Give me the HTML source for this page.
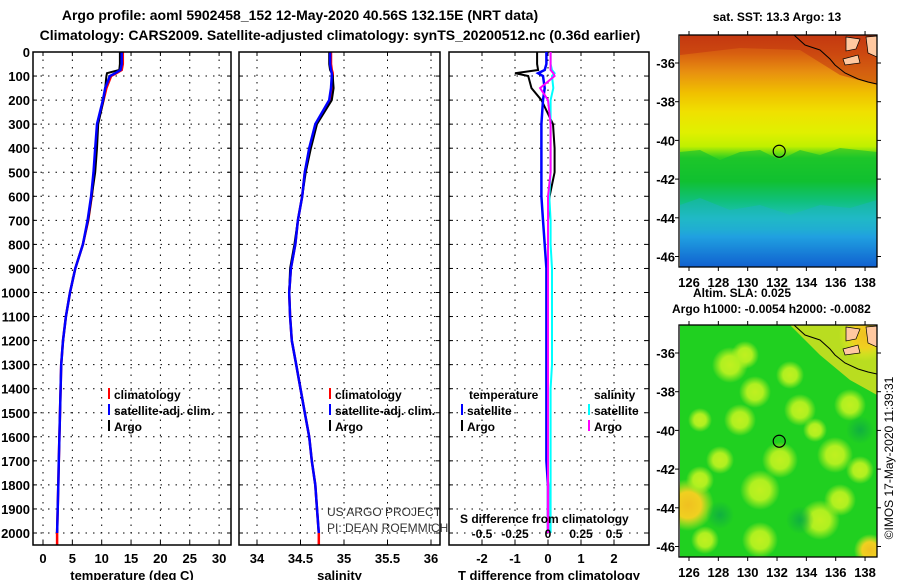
<!DOCTYPE html>
<html><head><meta charset="utf-8"><style>
body{margin:0;background:#fff;}
svg text{font-family:"Liberation Sans",sans-serif;font-weight:bold;}
</style></head><body>
<svg id="c" width="900" height="580" xmlns="http://www.w3.org/2000/svg">
<defs>
<linearGradient id="sst" x1="0" y1="0" x2="0" y2="1">
<stop offset="0" stop-color="#c84010"/><stop offset="0.08" stop-color="#d86010"/><stop offset="0.16" stop-color="#e89010"/><stop offset="0.25" stop-color="#f0c000"/><stop offset="0.33" stop-color="#f0e000"/><stop offset="0.42" stop-color="#e0f000"/><stop offset="0.48" stop-color="#c0f000"/><stop offset="0.53" stop-color="#30d020"/><stop offset="0.63" stop-color="#10c030"/><stop offset="0.72" stop-color="#10c080"/><stop offset="0.79" stop-color="#20c0c0"/><stop offset="0.87" stop-color="#20a0e0"/><stop offset="1" stop-color="#1060d0"/>
</linearGradient>
<radialGradient id="blobY"><stop offset="0" stop-color="#c0f020"/><stop offset="0.5" stop-color="#b0f020"/><stop offset="1" stop-color="#b0f020" stop-opacity="0"/></radialGradient>
<radialGradient id="blobO"><stop offset="0" stop-color="#f0c020"/><stop offset="0.5" stop-color="#f0d020"/><stop offset="1" stop-color="#e0f020" stop-opacity="0"/></radialGradient>
<radialGradient id="blobD"><stop offset="0" stop-color="#10b040"/><stop offset="1" stop-color="#10b040" stop-opacity="0"/></radialGradient>
<clipPath id="clip1"><rect x="679" y="35" width="198" height="232"/></clipPath>
<clipPath id="clip2"><rect x="679" y="325" width="198" height="232"/></clipPath>
</defs>
<g id="titles">
<text x="300" y="20" font-size="14" text-anchor="middle">Argo profile: aoml 5902458_152 12-May-2020 40.56S 132.15E (NRT data)</text>
<text x="340" y="40" font-size="14" text-anchor="middle">Climatology: CARS2009. Satellite-adjusted climatology: synTS_20200512.nc (0.36d earlier)</text>
</g>
<g id="g1"></g><g id="g2"></g><g id="g3"></g>
<g id="maps"></g>
</svg>
<script>
const depths=[0,50,75,88,100,150,200,300,400,500,600,700,800,900,1000,1100,1200,1300,1400,1500,1600,1700,1800,1900,2000,2050];
const tempClim=[13.6,13.6,13.4,12.5,11.6,10.8,10.3,9.3,9.0,8.7,8.3,7.7,6.8,5.5,4.6,3.9,3.4,3.1,3.0,2.9,2.8,2.7,2.6,2.5,2.4,2.4];
const tempSat=[13.4,13.4,13.2,12.3,11.4,10.6,10.2,9.2,8.9,8.6,8.2,7.6,6.8,5.5,4.6,3.9,3.4,3.1,3.0,2.9,2.8,2.7,2.6,2.5,2.4,null];
const tempArgo=[13.1,13.1,13.0,10.9,10.8,10.6,10.3,9.4,9.2,8.9,8.3,7.7,6.8,5.5,4.6,3.9,3.4,3.1,3.0,2.9,2.8,2.7,2.6,2.5,2.4,null];
const salClim=[34.85,34.85,34.86,34.87,34.87,34.86,34.84,34.68,34.61,34.55,34.52,34.47,34.44,34.39,34.37,34.38,34.40,34.45,34.50,34.55,34.60,34.63,34.67,34.69,34.71,34.71];
const salSat=[34.84,34.84,34.85,34.86,34.86,34.85,34.83,34.67,34.60,34.55,34.52,34.47,34.44,34.39,34.37,34.38,34.40,34.45,34.50,34.55,34.60,34.63,34.67,34.69,34.71,null];
const salArgo=[34.83,34.83,34.84,34.86,34.87,34.88,34.86,34.69,34.62,34.56,34.52,34.47,34.43,34.38,34.37,34.38,34.40,34.45,34.50,34.55,34.60,34.63,34.67,34.69,34.71,null];
const tDiffSat=[-0.05,-0.05,-0.1,-0.3,-0.15,-0.1,-0.15,-0.2,-0.2,-0.2,-0.2,-0.15,-0.1,-0.05,-0.05,-0.05,-0.05,-0.05,-0.05,-0.05,-0.05,-0.05,0,0,0,null];
const tDiffArgo=[-0.33,-0.33,-0.3,-1.0,-0.6,-0.5,-0.2,0.15,0.2,0.2,0.05,0,0,0,0,0,0,0,0,0,0,0,0,0,0,null];
const sDiffSat=[0.02,0.02,0.03,0.05,0.03,0.04,0.02,0.02,0.02,0.02,0.01,0.02,0.02,0.03,0.03,0.03,0.03,0.03,0.02,0.02,0.02,0.02,0.02,0.02,0.02,null];
const sDiffArgo=[0.02,0.02,0.02,0.04,0.05,-0.06,0.0,0.02,0.02,0.02,0.0,0.0,0.0,0.0,0.0,0.0,0.0,0.0,0.0,0.0,0.0,0.0,0.0,0.0,0.0,null];
const depthTicks=[0,100,200,300,400,500,600,700,800,900,1000,1100,1200,1300,1400,1500,1600,1700,1800,1900,2000];
const tempTicks=[0,5,10,15,20,25,30];
const salTicks=[34,34.5,35,35.5,36];
const tdTicks=[-2,-1,0,1,2];
const sdTicks=[-0.5,-0.25,0,0.25,0.5];
const sdTickLabels=["-0.5","-0.25","0","0.25","0.5"];
const lonTicks=[126,128,130,132,134,136,138];
const latTicks=[-36,-38,-40,-42,-44,-46];
const floatLon=132.15, floatLat=-40.56;

const NS="http://www.w3.org/2000/svg";
function mk(parent,tag,attrs,txt){const e=document.createElementNS(NS,tag);for(const k in attrs)e.setAttribute(k,attrs[k]);if(txt!==undefined)e.textContent=txt;parent.appendChild(e);return e;}
const TOP=52,BOT=545;
const yD=d=>52+d*0.2405;

function panel(gid,L,R,xs,ticks,tlabels,xlabel,series,showY,name){
  const g=document.getElementById(gid);
  
  
  depthTicks.forEach(d=>{const l=mk(g,'line',{x1:L,x2:R,y1:yD(d),y2:yD(d),stroke:'#000','stroke-dasharray':'1.5,6','stroke-width':1});
    
    
    mk(g,'line',{x1:L,x2:L+4,y1:yD(d),y2:yD(d),stroke:'#000'});
    mk(g,'line',{x1:R-4,x2:R,y1:yD(d),y2:yD(d),stroke:'#000'});
    if(showY){const t=mk(g,'text',{x:L-3,y:yD(d)+5,'font-size':13,'text-anchor':'end'},String(d));
      
      }
  });
  ticks.forEach((v,i)=>{const x=xs(v);
    const l=mk(g,'line',{x1:x,x2:x,y1:TOP,y2:BOT,stroke:'#000','stroke-dasharray':'1.5,6'});
    
    
    mk(g,'line',{x1:x,x2:x,y1:TOP,y2:TOP+4,stroke:'#000'});
    mk(g,'line',{x1:x,x2:x,y1:BOT-4,y2:BOT,stroke:'#000'});
    const t=mk(g,'text',{x:x,y:563,'font-size':13,'text-anchor':'middle'},tlabels[i]);
    
    
  });
  const xl=mk(g,'text',{x:(L+R)/2,y:580,'font-size':13,'text-anchor':'middle'},xlabel);
  
  
  series.forEach(s=>{
    let pts=[];
    depths.forEach((d,i)=>{const v=s.vals[i];if(v!==null&&v!==undefined){pts.push(xs(v).toFixed(1)+','+yD(d).toFixed(1));}});
    const p=mk(g,'polyline',{points:pts.join(' '),fill:'none',stroke:s.color,'stroke-width':s.w,'stroke-linejoin':'miter'});
    
    
  });
  const fr=mk(g,'rect',{x:L,y:TOP,width:R-L,height:BOT-TOP,fill:'none',stroke:'#000','stroke-width':1.5});
  
  
  return g;
}
function legend(g,x,y,color,label,lname){
  const r=mk(g,'rect',{x:x,y:y-11,width:2,height:11,fill:color});
  
  
  const t=mk(g,'text',{x:x+6,y:y,'font-size':12},label);
  
  
}
const xT=v=>43+v*5.87;
const g1=panel('g1',33,231,xT,tempTicks,tempTicks.map(String),'temperature (deg C)',[
 {vals:tempClim,color:'#f00',w:2.5,name:'temp-climatology-line'},
 {vals:tempArgo,color:'#000',w:2,name:'temp-argo-line'},
 {vals:tempSat,color:'#00f',w:2.5,name:'temp-satellite-line'}],true,'temperature-panel');
legend(g1,108,399,'#f00','climatology','legend-climatology');
legend(g1,108,415,'#00f','satellite-adj. clim.','legend-satellite');
legend(g1,108,431,'#000','Argo','legend-argo');

const xS=v=>257+(v-34)*87;
const g2=panel('g2',239,440,xS,salTicks,salTicks.map(String),'salinity',[
 {vals:salClim,color:'#f00',w:2.5,name:'sal-climatology-line'},
 {vals:salArgo,color:'#000',w:2,name:'sal-argo-line'},
 {vals:salSat,color:'#00f',w:2.5,name:'sal-satellite-line'}],false,'salinity-panel');
legend(g2,329,399,'#f00','climatology','legend-climatology');
legend(g2,329,415,'#00f','satellite-adj. clim.','legend-satellite');
legend(g2,329,431,'#000','Argo','legend-argo');
[['US ARGO PROJECT',516],['PI: DEAN ROEMMICH',532]].forEach(a=>{
  const t=mk(g2,'text',{x:327,y:a[1],'font-size':12,fill:'#333','font-weight':'normal'},a[0]);
  
  
  t.style.fontWeight='normal';
});

const xTD=v=>548+v*33;
const xSD=v=>548+v*132;
const g3=panel('g3',449,649,xTD,tdTicks,tdTicks.map(String),'T difference from climatology',[],false,'difference-panel');
[[tDiffArgo,xTD,'#000',2,'tdiff-argo-line'],[tDiffSat,xTD,'#00f',2.5,'tdiff-satellite-line'],[sDiffSat,xSD,'#0ff',2,'sdiff-satellite-line'],[sDiffArgo,xSD,'#f0f',2,'sdiff-argo-line']].forEach(s=>{
  let pts=[];depths.forEach((d,i)=>{const v=s[0][i];if(v!==null)pts.push(s[1](v).toFixed(1)+','+yD(d).toFixed(1));});
  const p=mk(g3,'polyline',{points:pts.join(' '),fill:'none',stroke:s[2],'stroke-width':s[3]});
  
  
});
{const t=mk(g3,'text',{x:469,y:399,'font-size':12},'temperature');}
{const t=mk(g3,'text',{x:594,y:399,'font-size':12},'salinity');}
legend(g3,461,415,'#00f','satellite','legend-t-satellite');
legend(g3,461,431,'#000','Argo','legend-t-argo');
legend(g3,588,415,'#0ff','satellite','legend-s-satellite');
legend(g3,588,431,'#f0f','Argo','legend-s-argo');
{const t=mk(g3,'text',{x:460,y:523,'font-size':12},'S difference from climatology');}
sdTicks.forEach((v,i)=>{const t=mk(g3,'text',{x:xSD(v),y:538,'font-size':12,'text-anchor':'middle'},sdTickLabels[i]);
  
  });

const M=document.getElementById('maps');


const mx=lon=>689+(lon-126)*14.67;
function map(y0,y1,latTop,clipId,fillFn,name){
  const g=mk(M,'g',{});
  
  
  const my=lat=>latTop+(-36-lat)*19.35;
  const clip=mk(g,'g',{'clip-path':`url(#${clipId})`});
  fillFn(clip,y0,y1);
  const land=mk(clip,'path',{d:`M846 ${y0+2} L860 ${y0+4} L856 ${y0+14} L846 ${y0+16} Z M843 ${y0+24} L858 ${y0+20} L860 ${y0+28} L845 ${y0+30} Z M866 ${y0+2} L877 ${y0+1} L877 ${y0+22} L868 ${y0+18} Z`,fill:'#ffc8a0',stroke:'#000','stroke-width':0.7});
  
  
  const coast=mk(clip,'polyline',{points:`794,${y0} 805,${y0+10} 820,${y0+15} 830,${y0+24} 835,${y0+30} 845,${y0+38} 858,${y0+44} 868,${y0+47} 877,${y0+49}`,fill:'none',stroke:'#000','stroke-width':1});
  
  
  const c=mk(g,'circle',{cx:mx(floatLon),cy:my(floatLat),r:6,fill:'none',stroke:'#000','stroke-width':1.2});
  
  
  mk(g,'rect',{x:679,y:y0,width:198,height:y1-y0,fill:'none',stroke:'#000','stroke-width':1.3});
  lonTicks.forEach(l=>{mk(g,'line',{x1:mx(l),x2:mx(l),y1:y0-4,y2:y0,stroke:'#000'});mk(g,'line',{x1:mx(l),x2:mx(l),y1:y1,y2:y1+4,stroke:'#000'});
    const t=mk(g,'text',{x:mx(l),y:y1+20,'font-size':13,'text-anchor':'middle'},String(l));
    
    });
  latTicks.forEach(l=>{mk(g,'line',{x1:675,x2:679,y1:my(l),y2:my(l),stroke:'#000'});mk(g,'line',{x1:877,x2:881,y1:my(l),y2:my(l),stroke:'#000'});
    const t=mk(g,'text',{x:675,y:my(l)+5,'font-size':13,'text-anchor':'end'},String(l));
    
    });
}
map(35,267,63,'clip1',(g,y0,y1)=>{
  const r=mk(g,'rect',{x:680,y:y0,width:197,height:y1-y0,fill:'url(#sst)'});
  
  
  mk(g,'path',{d:'M680 152 L700 150 L720 160 L740 152 L760 150 L780 160 L800 150 L820 155 L840 148 L877 152 L877 180 L680 180 Z',fill:'#10c030',opacity:0.6});
  mk(g,'path',{d:'M680 205 L700 198 L730 210 L760 205 L790 215 L820 205 L850 208 L877 200 L877 230 L680 230 Z',fill:'#20b0d0',opacity:0.4});
  mk(g,'path',{d:'M680 35 L877 35 L877 85 L840 75 L800 50 L740 48 L680 55 Z',fill:'#c03010',opacity:0.5});
},'sst-map');
map(325,557,353,'clip2',(g,y0,y1)=>{
  const r=mk(g,'rect',{x:680,y:y0,width:197,height:y1-y0,fill:'#20d020'});
  
  
  mk(g,'path',{d:'M790 325 L877 325 L877 395 L850 380 L820 355 Z',fill:'#e0e020',opacity:0.8});
  [[688,505,26,'blobO'],[870,550,16,'blobO'],[865,335,26,'blobO'],[755,392,16,'blobY'],[800,410,16,'blobY'],[730,365,18,'blobY'],[780,460,18,'blobY'],[835,455,18,'blobY'],[760,490,20,'blobY'],[700,480,14,'blobY'],[820,520,20,'blobY'],[720,460,14,'blobY'],[850,405,16,'blobY'],[740,420,16,'blobY'],[760,540,18,'blobY'],[790,375,14,'blobY'],[700,420,12,'blobY'],[745,355,14,'blobY'],[840,500,16,'blobY'],[705,540,14,'blobY'],[815,430,12,'blobY'],[860,470,14,'blobY'],[720,515,14,'blobD'],[800,520,14,'blobD'],[860,430,14,'blobD']].forEach(b=>{
    mk(g,'circle',{cx:b[0],cy:b[1],r:b[2],fill:`url(#${b[3]})`});
  });
},'sla-map');
[['sat. SST: 13.3 Argo: 13',777,21,'middle','sst-map-title'],['Altim. SLA: 0.025',693,297,'start','sla-map-title'],['Argo h1000: -0.0054 h2000: -0.0082',672,313,'start','sla-map-subtitle']].forEach(a=>{
  const t=mk(M,'text',{x:a[1],y:a[2],'font-size':12,'text-anchor':a[3]},a[0]);
  
  
});
{const t=mk(M,'text',{x:0,y:0,'font-size':12,'text-anchor':'middle',transform:'translate(893,458) rotate(-90)'},'©IMOS 17-May-2020 11:39:31');
t.style.fontWeight='normal';

}
</script>
</body></html>
